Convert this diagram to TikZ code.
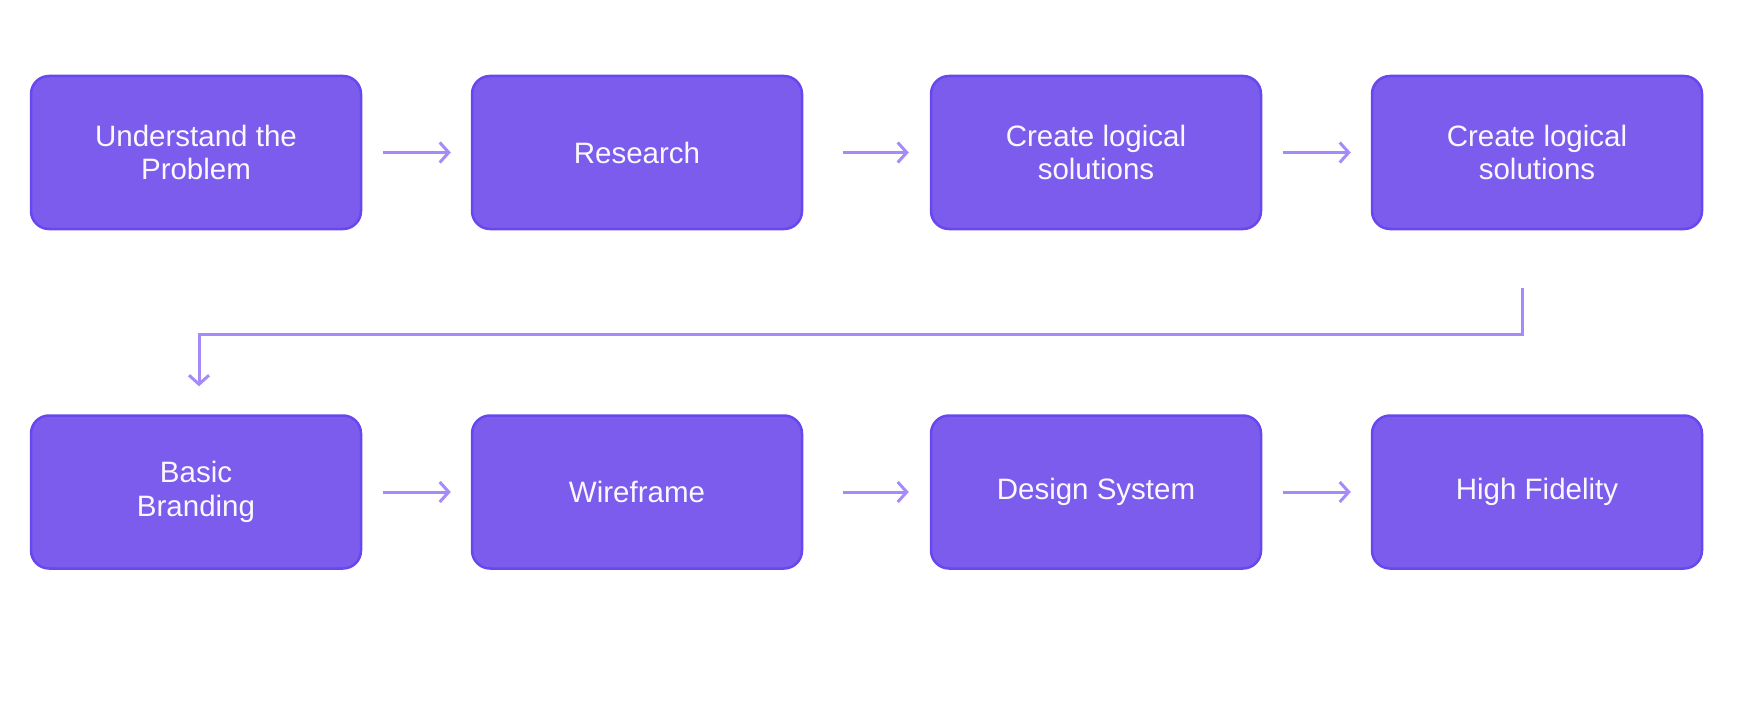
\documentclass[tikz,border=0pt]{standalone}
\usepackage{fontspec}
\setmainfont{Liberation Sans}
\usetikzlibrary{arrows.meta,positioning}
\definecolor{FLviolet}{RGB}{123,92,236}
\definecolor{FLedge}{RGB}{104,71,238}
\definecolor{FLarrow}{RGB}{165,139,250}
\definecolor{FLtext}{RGB}{250,248,255}
\tikzset{
  stepbox/.style={rounded corners=18pt,draw=FLedge,line width=2.5pt,fill=FLviolet,
                  text=FLtext,align=center,inner sep=0pt,font=\fontsize{29.5}{33.5}\selectfont,
                  minimum width=330pt,minimum height=153pt},
  fl/.style={-{Straight Barb[length=9pt,width=20pt]},line width=3pt,draw=FLarrow}
}

\begin{document}
\begin{tikzpicture}[node distance=184pt and 108.5pt]
  \useasboundingbox (0,0) rectangle (1746pt,-717pt);
  \node[stepbox] (und) at (196pt,-152.5pt) {Understand the\\Problem};
  \node[stepbox,right=of und] (res) {Research};
  \node[stepbox,right=126.5pt of res] (sol) {Create logical\\solutions};
  \node[stepbox,right=of sol] (soltwo) {Create logical\\solutions};
  \node[stepbox,below=of und] (brand) {Basic\\Branding};
  \node[stepbox,right=of brand] (wire) {Wireframe};
  \node[stepbox,right=126.5pt of wire] (dsys) {Design System};
  \node[stepbox,right=of dsys] (hifi) {High Fidelity};
  \coordinate (turn) at (0,-334pt);
  \coordinate (drop) at ([xshift=3pt]brand.north);
  \draw[fl,shorten <=21pt,shorten >=20pt] (und) -- (res);
  \draw[fl,shorten <=40pt,shorten >=21pt] (res) -- (sol);
  \draw[fl,shorten <=21pt,shorten >=20pt] (sol) -- (soltwo);
  \draw[fl,shorten <=58pt,shorten >=28pt] ([xshift=-15pt]soltwo.south) |- (turn -| drop) -- (drop);
  \draw[fl,shorten <=21pt,shorten >=20pt] (brand) -- (wire);
  \draw[fl,shorten <=40pt,shorten >=21pt] (wire) -- (dsys);
  \draw[fl,shorten <=21pt,shorten >=20pt] (dsys) -- (hifi);
\end{tikzpicture}
\end{document}
